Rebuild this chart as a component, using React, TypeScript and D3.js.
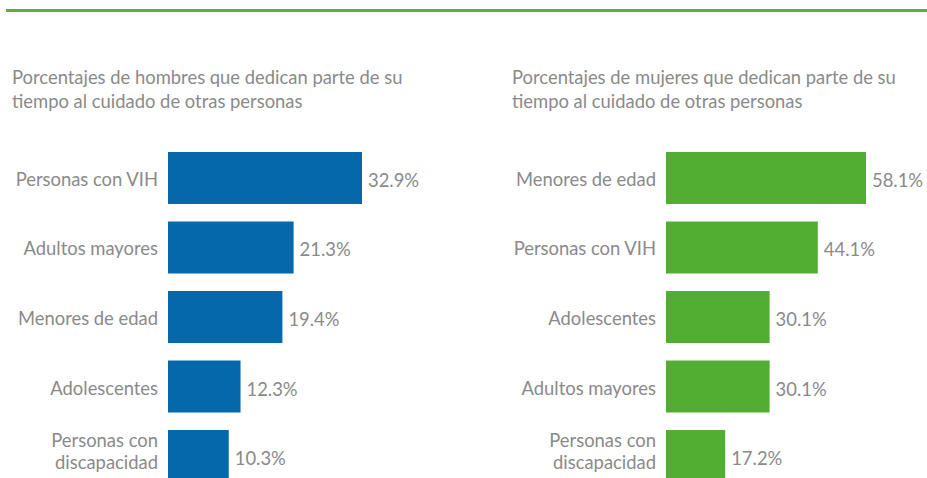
import React from "react";
import * as d3 from "d3";

const menCategories = ["Personas con VIH", "Adultos mayores", "Menores de edad", "Adolescentes", "Personas con discapacidad"];
const menValues = [32.9, 21.3, 19.4, 12.3, 10.3];
const womenCategories = ["Menores de edad", "Personas con VIH", "Adolescentes", "Adultos mayores", "Personas con discapacidad"];
const womenValues = [58.1, 44.1, 30.1, 30.1, 17.2];
const menTitle = ["Porcentajes de hombres que dedican parte de su", "tiempo al cuidado de otras personas"];
const womenTitle = ["Porcentajes de mujeres que dedican parte de su", "tiempo al cuidado de otras personas"];

const W = 927;
const H = 478;
const FONT = "Lato, 'Open Sans', sans-serif";
const GRAY = "#8a8a8a";
const FS = 18.4;

function splitLabel(s: string): string[] {
  if (s === "Personas con discapacidad") return ["Personas con", "discapacidad"];
  return [s];
}

function Panel(props: {
  labelRight: number; barX: number; maxW: number;
  cats: string[]; vals: number[]; color: string; title: string[]; titleX: number;
}) {
  const { labelRight, barX, maxW, cats, vals, color, title, titleX } = props;
  const y = d3.scaleBand<number>().domain(d3.range(cats.length)).range([152, 482]).paddingInner(0.252).paddingOuter(0);
  const x = d3.scaleLinear().domain([0, d3.max(vals) as number]).range([0, maxW]);
  return (
    <g>
      {title.map((t, i) => (
        <text key={i} x={titleX} y={84 + i * 24} fontSize={FS} fill={GRAY} fontFamily={FONT}>{t}</text>
      ))}
      {cats.map((c, i) => {
        const yy = y(i) as number;
        const cy = yy + y.bandwidth() / 2;
        const lines = splitLabel(c);
        const w = x(vals[i]);
        return (
          <g key={i}>
            <rect x={barX} y={yy} width={w} height={y.bandwidth()} fill={color} />
            {lines.length === 1 ? (
              <text x={labelRight} y={cy + 8} textAnchor="end" fontSize={FS} fill={GRAY} fontFamily={FONT}>{c}</text>
            ) : (
              lines.map((l, j) => (
                <text key={j} x={labelRight} y={cy - 9 + j * 21.5} textAnchor="end" fontSize={FS} fill={GRAY} fontFamily={FONT}>{l}</text>
              ))
            )}
            <text x={barX + w + 6} y={cy + 9} fontSize={FS} fill={GRAY} fontFamily={FONT}>{vals[i].toFixed(1) + "%"}</text>
          </g>
        );
      })}
    </g>
  );
}

export default function App() {
  return (
    <svg width={W} height={H} style={{ position: "absolute", left: 0, top: 0, background: "#fff" }}>
      <rect x={6} y={9} width={W - 6} height={3} fill="#5aae3c" />
      <Panel labelRight={158} barX={168} maxW={194} cats={menCategories} vals={menValues} color="#0468aa" title={menTitle} titleX={12} />
      <Panel labelRight={656} barX={666} maxW={200} cats={womenCategories} vals={womenValues} color="#52ae33" title={womenTitle} titleX={512} />
    </svg>
  );
}
